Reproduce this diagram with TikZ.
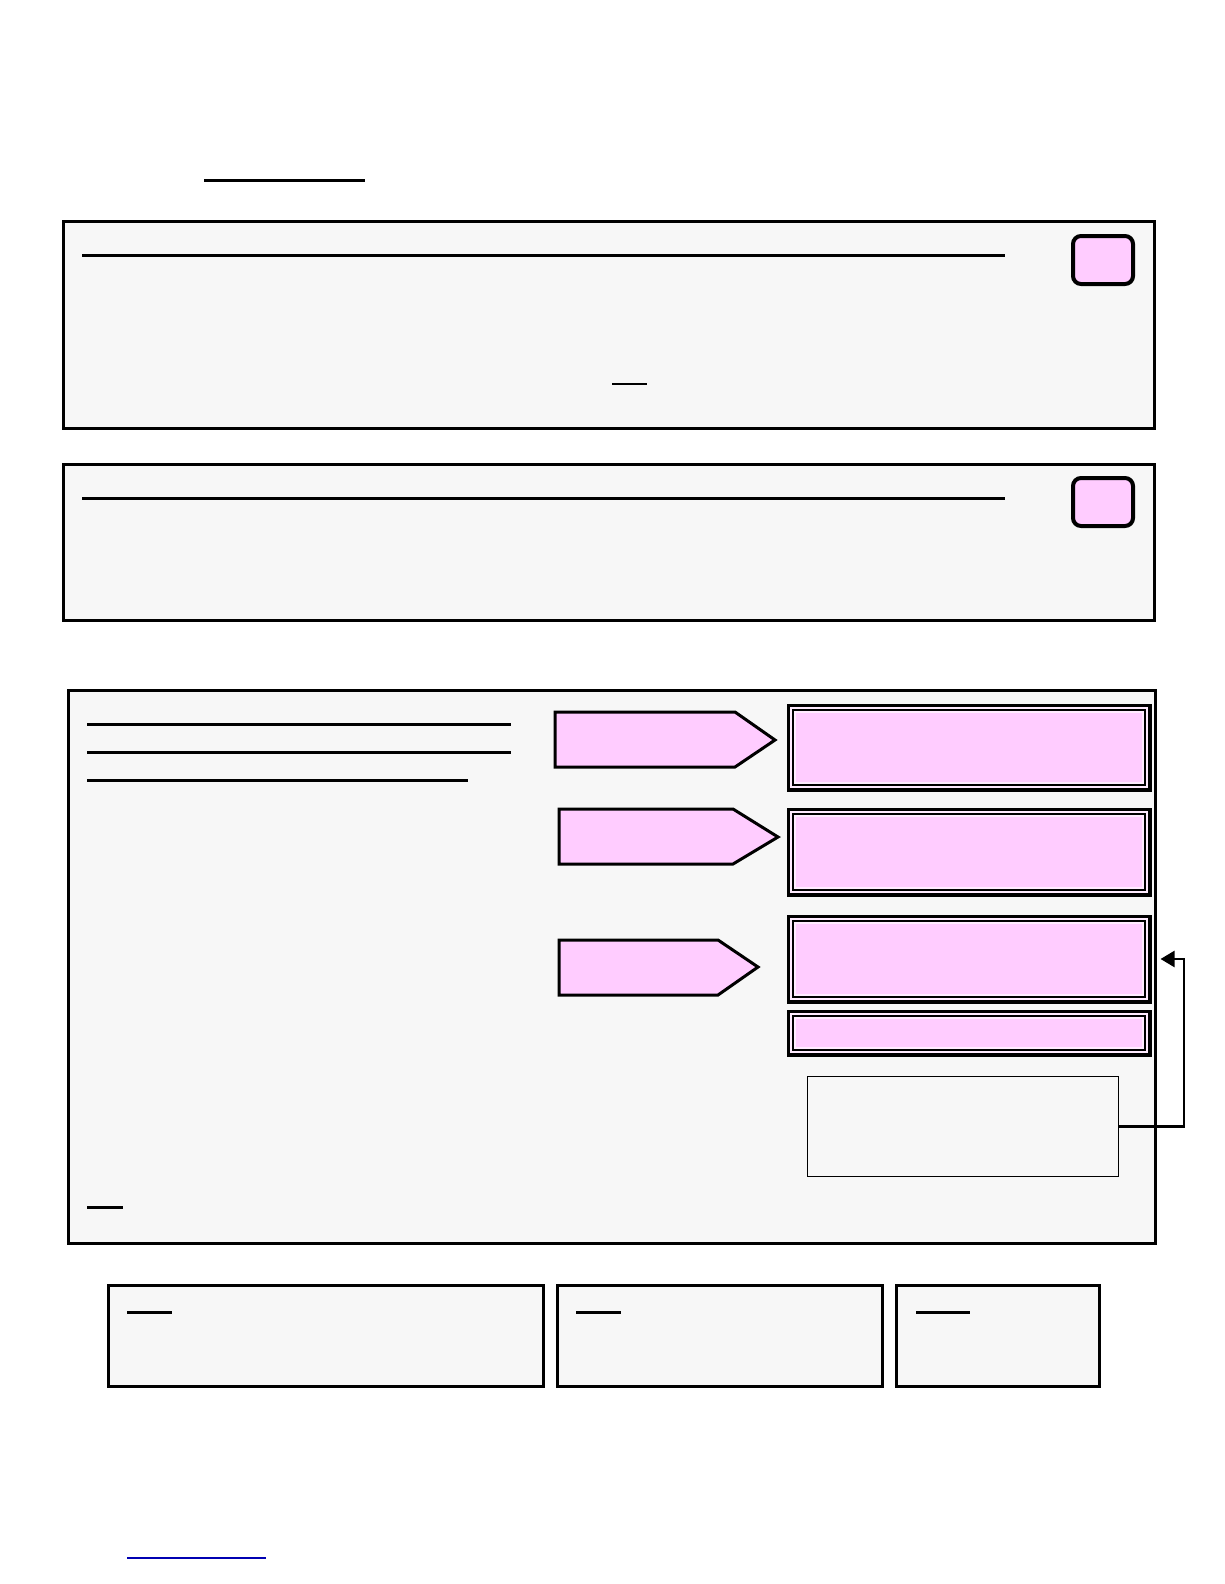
\documentclass[tikz,border=0pt]{standalone}
\usetikzlibrary{arrows.meta,positioning}
\definecolor{formgray}{HTML}{F7F7F7}
\definecolor{formpink}{HTML}{FFCCFF}

\begin{document}
\begin{tikzpicture}[x=1pt,y=-1pt,
  panel/.style={draw,line width=2.5pt,fill=formgray,anchor=north west,inner sep=0pt},
  tickbox/.style={draw,line width=4pt,fill=formpink,rounded corners=8pt,anchor=north west,inner sep=0pt,minimum width=60pt,minimum height=48pt},
  rule/.style={line width=3pt},
  pointer/.style={draw,line width=3pt,fill=formpink,line join=miter},
  result/.style={draw,line width=7pt,fill=formpink,anchor=north west,inner sep=0pt,minimum width=358pt},
  inset/.style={draw,line width=2pt,preaction={draw=white!60!formpink,line width=6pt}},
  note/.style={draw,line width=1pt,fill=formgray,anchor=north west,inner sep=0pt}]
 	\fill[white] (0,0) rectangle (1224,1584);
 	\useasboundingbox (0,0) rectangle (1224,1584);
 	\draw[rule] (204,180) -- (365,180);
 	% first two panels
 	\node[panel, minimum width=1091pt, minimum height=207pt] (Top) at (62,220) {};
 	\draw[rule] (82,255) -- (1005,255);
 	\draw[line width=2pt] (612,384) -- (647,384);
 	\node[tickbox] (TopTick) at (1071,234) {};
 	\node[panel, minimum width=1091pt, minimum height=156pt] (Mid) at (62,463) {};
 	\draw[rule] (82,498) -- (1005,498);
 	\node[tickbox] (MidTick) at (1071,476) {};
 	% main panel
 	\node[panel, minimum width=1087pt, minimum height=553pt] (Main) at (67,689) {};
 	\draw[rule] (87,724) -- (511,724);
 	\draw[rule] (87,752) -- (511,752);
 	\draw[rule] (87,780) -- (468,780);
 	\draw[rule] (87,1207) -- (123,1207);
 	\draw[pointer] (555,712) -- (735,712) -- (775,740) -- (735,767) -- (555,767) -- cycle;
 	\draw[pointer] (559,809) -- (733,809) -- (778,837) -- (733,864) -- (559,864) -- cycle;
 	\draw[pointer] (559,940) -- (718,940) -- (758,967) -- (718,995) -- (559,995) -- cycle;
 	\node[result, minimum height=81pt] (ResA) at (786.5,703.5) {};
 	\node[result, minimum height=82pt] (ResB) at (786.5,807.5) {};
 	\node[result, minimum height=82pt] (ResC) at (786.5,914.5) {};
 	\node[result, minimum height=40pt] (ResD) at (786.5,1009.5) {};
 	\foreach \r in {ResA,ResB,ResC,ResD}
 	  \draw[inset] ([shift={(6.5,6.5)}]\r.north west) rectangle ([shift={(-6.5,-6.5)}]\r.south east);
 	\node[note, minimum width=311pt, minimum height=100pt] (Note) at (807,1076) {};
 	\draw[line width=2.5pt,-{Triangle[length=14pt,width=16pt]}] (Note.east) -- ++(65,0) |- ([xshift=9pt]ResC.east);
 	% bottom panels
 	\node[panel, minimum width=435pt, minimum height=101pt] (Left) at (107,1284) {};
 	\node[panel, minimum width=325pt, minimum height=101pt] (Centre) at (556,1284) {};
 	\node[panel, minimum width=203pt, minimum height=101pt] (Right) at (895,1284) {};
 	\draw[rule] (127,1312) -- (172,1312);
 	\draw[rule] (576,1312) -- (621,1312);
 	\draw[rule] (916,1312) -- (970,1312);
 	\draw[blue!70!black, line width=1.5pt] (127,1558) -- (266,1558);
\end{tikzpicture}
\end{document}
